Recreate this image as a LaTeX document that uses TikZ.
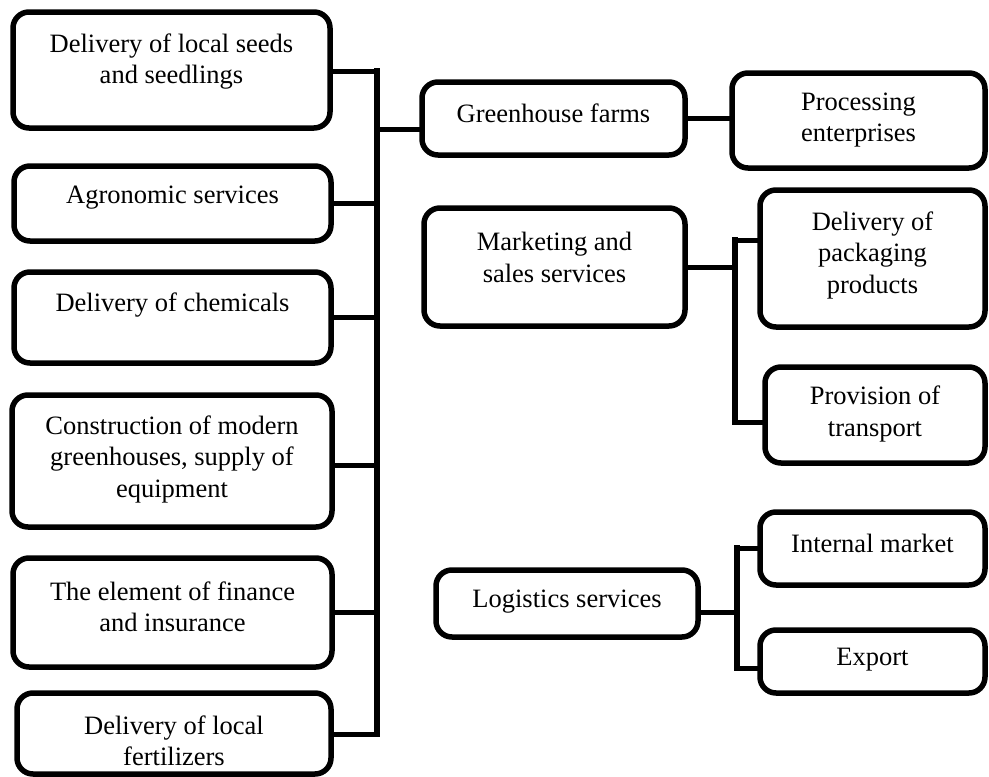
\documentclass[tikz,border=0pt]{standalone}
\usepackage{fontspec}
\setmainfont{Liberation Serif}
\tikzset{
  boxst/.style={draw=black, line width=5.5pt, rounded corners=16pt, inner sep=0pt, outer sep=0pt, fill=white},
  txt/.style={align=center, inner sep=0pt, font=\fontsize{26.5}{31.5}\selectfont},
  conn/.style={draw=black, line width=5pt},
  busst/.style={draw=black, line width=5.5pt, line cap=rect}
}
\newcommand\mkbox[7]{%
  \node[boxst, minimum width={#4-#2}, minimum height={#5-#3}] (#1) at ({(#2+#4)/2},{(#3+#5)/2}) {};
  \node[txt] (#1-t) at ({(#2+#4)/2},#6) {#7};
}
\begin{document}
\begin{tikzpicture}[x=1pt,y=-1pt]
\path[fill=white] (0,0) rectangle (989,777);
\useasboundingbox (0,0) rectangle (989,777);

% left column
\mkbox{seeds}{13}{12}{330}{128}{61.5}{Delivery of local seeds\\and seedlings}
\mkbox{agro}{14}{166}{331}{241}{198}{Agronomic services}
\mkbox{chem}{14}{272}{331}{363}{305}{Delivery of chemicals}
\mkbox{constr}{12}{395}{332}{527}{459}{Construction of modern\\greenhouses, supply of\\equipment}
\mkbox{fin}{13}{558}{332}{667}{607}{The element of finance\\and insurance}
\mkbox{fert}{17}{693}{331}{774}{741}{Delivery of local\\fertilizers}

% right side
\mkbox{green}{422}{82}{685}{155}{113}{Greenhouse farms}
\mkbox{proc}{732}{73}{985}{168}{120}{Processing\\enterprises}
\mkbox{mark}{424}{208}{685}{326}{257.5}{Marketing and\\sales services}
\mkbox{pack}{760}{190}{985}{327}{255}{Delivery of\\packaging\\products}
\mkbox{prov}{765}{367}{985}{463}{414}{Provision of\\transport}
\mkbox{logi}{436}{570}{698}{637}{602}{Logistics services}
\mkbox{intm}{760}{512}{985}{585}{543}{Internal market}
\mkbox{expo}{760}{630}{985}{693}{660}{Export}

% main bus
\coordinate (b1) at (377,71);
\coordinate (b2) at (377,203);
\coordinate (b3) at (377,317);
\coordinate (b4) at (377,465);
\coordinate (b5) at (377,612);
\coordinate (b6) at (377,734);
\coordinate (bg) at (377,129);
\draw[busst] (b1) -- (b6);
\draw[conn] (b1 -| seeds.east) -- (b1);
\draw[conn] (b2 -| agro.east) -- (b2);
\draw[conn] (b3 -| chem.east) -- (b3);
\draw[conn] (b4 -| constr.east) -- (b4);
\draw[conn] (b5 -| fin.east) -- (b5);
\draw[conn] (b6 -| fert.east) -- (b6);
\draw[conn] (bg) -- (bg -| green.west);

% greenhouse to processing
\coordinate (gp) at (700,118);
\draw[conn] (gp -| green.east) -- (gp -| proc.west);

% marketing bus
\coordinate (m1) at (735,240);
\coordinate (m2) at (735,422);
\coordinate (mm) at (735,267);
\draw[busst] (m1) -- (m2);
\draw[conn] (mm -| mark.east) -- (mm);
\draw[conn] (m1) -- (m1 -| pack.west);
\draw[conn] (m2) -- (m2 -| prov.west);

% logistics bus
\coordinate (l1) at (737,548);
\coordinate (l2) at (737,668);
\coordinate (lm) at (737,612);
\draw[busst] (l1) -- (l2);
\draw[conn] (lm -| logi.east) -- (lm);
\draw[conn] (l1) -- (l1 -| intm.west);
\draw[conn] (l2) -- (l2 -| expo.west);
\end{tikzpicture}
\end{document}
